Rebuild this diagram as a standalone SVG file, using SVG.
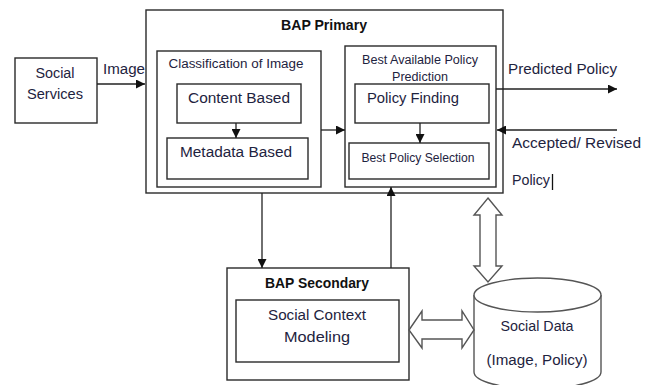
<svg xmlns="http://www.w3.org/2000/svg" width="655" height="385" viewBox="0 0 655 385">
<defs>
<marker id="ah" viewBox="0 0 10 10" refX="10" refY="5" markerWidth="9" markerHeight="9" markerUnits="userSpaceOnUse" orient="auto">
<path d="M0,0 L10,5 L0,10 z" fill="#111"/>
</marker>
<style>
.box{fill:#fff;stroke:#2a2a2a;stroke-width:1.4}
.t{font-family:"Liberation Sans",Arial,sans-serif;fill:#1e2340;font-size:14px}
.s{font-size:12px}
.b{font-weight:bold;fill:#111}
.ln{stroke:#222;stroke-width:1.3;fill:none}
.dbl{fill:#fff;stroke:#555;stroke-width:1.4}
</style>
</defs>
<rect width="655" height="385" fill="#fff"/>
<g id="social-services">
<rect class="box" x="15" y="58" width="82" height="65"/>
<text class="t" x="55" y="78" text-anchor="middle" textLength="39" lengthAdjust="spacingAndGlyphs">Social</text>
<text class="t" x="55" y="99" text-anchor="middle" textLength="56" lengthAdjust="spacingAndGlyphs">Services</text>
</g>
<g id="bap-primary">
<rect class="box" x="146" y="10" width="357" height="183"/>
<text class="t b" x="324" y="30" text-anchor="middle" textLength="86" lengthAdjust="spacingAndGlyphs">BAP Primary</text>
</g>
<g id="classification">
<rect class="box" x="157" y="51" width="164" height="136"/>
<text class="t s" x="236" y="68" text-anchor="middle" textLength="135" lengthAdjust="spacingAndGlyphs">Classification of Image</text>
</g>
<g id="content-based">
<rect class="box" x="177" y="84" width="124" height="39"/>
<text class="t" x="239" y="103" text-anchor="middle" textLength="102" lengthAdjust="spacingAndGlyphs">Content Based</text>
</g>
<g id="metadata-based">
<rect class="box" x="167" y="138" width="141" height="41"/>
<text class="t" x="236" y="157" text-anchor="middle" textLength="112" lengthAdjust="spacingAndGlyphs">Metadata Based</text>
</g>
<g id="best-available">
<rect class="box" x="345" y="46" width="151" height="141"/>
<text class="t s" x="420" y="64" text-anchor="middle" textLength="116" lengthAdjust="spacingAndGlyphs">Best Available Policy</text>
<text class="t s" x="420" y="81" text-anchor="middle" textLength="56" lengthAdjust="spacingAndGlyphs">Prediction</text>
</g>
<g id="policy-finding">
<rect class="box" x="355" y="84" width="134" height="39"/>
<text class="t" x="413" y="103" text-anchor="middle" textLength="92" lengthAdjust="spacingAndGlyphs">Policy Finding</text>
</g>
<g id="best-policy-selection">
<rect class="box" x="349" y="143" width="140" height="36"/>
<text class="t s" x="418" y="162" text-anchor="middle" textLength="113" lengthAdjust="spacingAndGlyphs">Best Policy Selection</text>
</g>
<g id="bap-secondary">
<rect class="box" x="227" y="268" width="182" height="112"/>
<text class="t b" x="317" y="288" text-anchor="middle" textLength="104" lengthAdjust="spacingAndGlyphs">BAP Secondary</text>
</g>
<g id="social-context">
<rect class="box" x="236" y="300" width="163" height="62"/>
<text class="t" x="317" y="320" text-anchor="middle" textLength="98" lengthAdjust="spacingAndGlyphs">Social Context</text>
<text class="t" x="317" y="342" text-anchor="middle" textLength="66" lengthAdjust="spacingAndGlyphs">Modeling</text>
</g>
<g id="social-data">
<path d="M474,295 L474,372 A63.5,17 0 0 0 601,372 L601,295" fill="#fff" stroke="#555" stroke-width="1.4"/>
<ellipse cx="537.5" cy="295" rx="63.5" ry="17" fill="#fff" stroke="#555" stroke-width="1.4"/>
<text class="t" x="537" y="331" text-anchor="middle" textLength="73" lengthAdjust="spacingAndGlyphs">Social Data</text>
<text class="t" x="537" y="365" text-anchor="middle" textLength="101" lengthAdjust="spacingAndGlyphs">(Image, Policy)</text>
</g>
<g id="connectors">
<line class="ln" x1="97" y1="84" x2="145" y2="84" marker-end="url(#ah)"/>
<text class="t" x="124" y="74" text-anchor="middle" textLength="42" lengthAdjust="spacingAndGlyphs">Image</text>
<line class="ln" x1="236" y1="123" x2="236" y2="138" marker-end="url(#ah)"/>
<line class="ln" x1="420" y1="123" x2="420" y2="143" marker-end="url(#ah)"/>
<line class="ln" x1="321" y1="130" x2="345" y2="130" marker-end="url(#ah)"/>
<line class="ln" x1="496" y1="89" x2="617" y2="89" marker-end="url(#ah)"/>
<text class="t" x="508" y="74" textLength="109" lengthAdjust="spacingAndGlyphs">Predicted Policy</text>
<line class="ln" x1="617" y1="130" x2="497" y2="130" marker-end="url(#ah)"/>
<text class="t" x="512" y="148" textLength="129" lengthAdjust="spacingAndGlyphs">Accepted/ Revised</text>
<text class="t" x="512" y="185" textLength="38" lengthAdjust="spacingAndGlyphs">Policy</text>
<line x1="552.5" y1="174" x2="552.5" y2="190" stroke="#111" stroke-width="1.3"/>
<line class="ln" x1="262" y1="193" x2="262" y2="268" marker-end="url(#ah)"/>
<line class="ln" x1="391" y1="268" x2="391" y2="187" marker-end="url(#ah)"/>
<polygon class="dbl" points="488,198 502,215 496,215 496,266 502,266 488,282 474,266 480,266 480,215 474,215"/>
<polygon class="dbl" points="409,330 422,311 422,320 462,320 462,311 474,330 462,348 462,339 422,339 422,348"/>
</g>
</svg>
